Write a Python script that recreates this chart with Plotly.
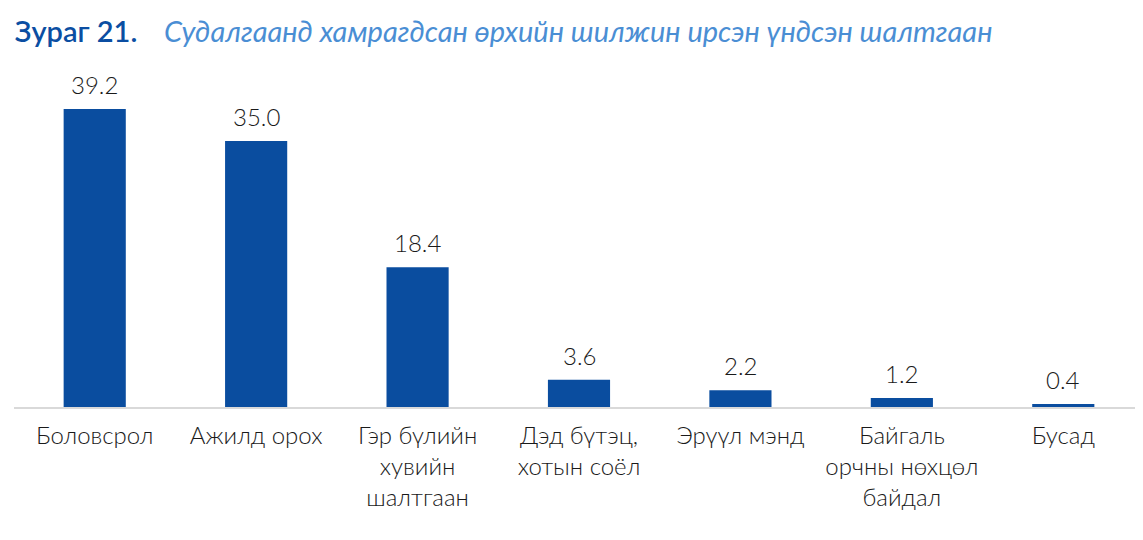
import plotly.graph_objects as go

categories = ["Боловсрол", "Ажилд орох", "Гэр бүлийн<br>хувийн<br>шалтгаан",
              "Дэд бүтэц,<br>хотын соёл", "Эрүүл мэнд",
              "Байгаль<br>орчны нөхцөл<br>байдал", "Бусад"]
values = [39.2, 35.0, 18.4, 3.6, 2.2, 1.2, 0.4]
value_labels = ["39.2", "35.0", "18.4", "3.6", "2.2", "1.2", "0.4"]

bar_color = "#0A4D9F"
text_font = dict(family="Lato", size=24, color="#1a1a1a", weight=300)

xs = list(range(len(categories)))

fig = go.Figure(go.Bar(
    x=xs,
    y=values,
    marker=dict(color=bar_color, line=dict(width=0)),
    width=0.385,
    hoverinfo="y",
))

# value labels above the bars
for x, v, lab in zip(xs, values, value_labels):
    fig.add_annotation(x=x, y=v, text=lab, showarrow=False,
                       yanchor="bottom", yshift=8, font=text_font)

fig.update_layout(
    width=1143, height=540,
    margin=dict(l=6, r=7, t=57, b=141),
    plot_bgcolor="white", paper_bgcolor="white",
    showlegend=False,
    title=dict(
        text=("<span style='color:#0B4EA2;font-weight:600'>Зураг 21.</span>"
              "<span style='color:#ffffff'>__</span>"
              "<i><span style='color:#4A8ED4'>Судалгаанд хамрагдсан өрхийн шилжин ирсэн үндсэн шалтгаан</span></i>"),
        font=dict(family="Lato", size=29),
        x=0.006, xanchor="left", xref="container",
        y=0.975, yanchor="top", yref="container",
    ),
    xaxis=dict(tickmode="array", tickvals=xs,
               ticktext=categories, range=[-0.5, 6.5],
               showline=True, linecolor="#d9d9d9", linewidth=1.5,
               showgrid=False, zeroline=False, ticks="",
               tickfont=text_font, ticklabelstandoff=6),
    yaxis=dict(range=[0, 45], visible=False, showgrid=False, zeroline=False),
)

fig.write_html("out.html")
